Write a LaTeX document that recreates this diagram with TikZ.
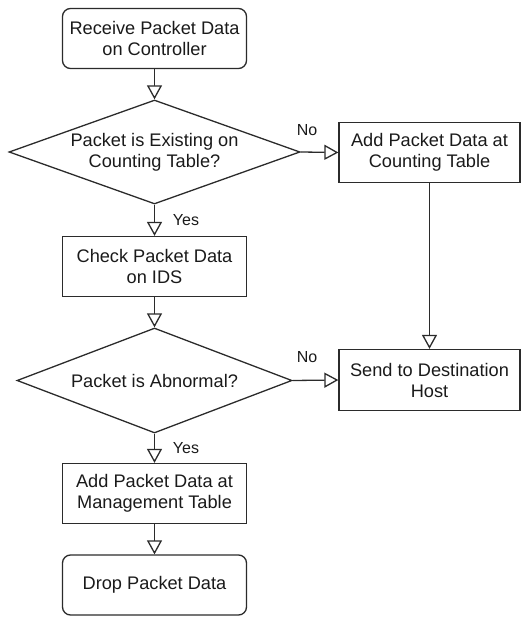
\documentclass[tikz,border=0pt]{standalone}
\usepackage{fontspec}
\setmainfont{Liberation Sans}
\usetikzlibrary{shapes.geometric,arrows.meta}
\definecolor{ln}{HTML}{2B2B2B}
\definecolor{tx}{HTML}{1A1A1A}
\begin{document}
\begin{tikzpicture}[x=1pt,y=-1pt,
  every node/.style={text=tx,font=\fontsize{18.2}{21}\selectfont},
  box/.style={draw=ln,line width=1.3pt,rectangle,align=center,inner sep=0pt,minimum width=184pt,minimum height=60pt},
  rbox/.style={box,rounded corners=8pt},
  dec/.style={draw=ln,line width=1.3pt,diamond,align=center,inner sep=0pt,aspect=2.8},
  lbl/.style={font=\fontsize{16}{18}\selectfont},
  flow/.style={draw=ln,line width=1.3pt,-{Triangle[open,length=14pt,width=15pt,fill=white]}}
]
\useasboundingbox (0,0) rectangle (521,617);
\node[rbox] (start) at (154.5,38.5) {Receive Packet Data\\on Controller};
\node[dec,minimum width=291pt,minimum height=104pt] (d1) at (154.5,152) {Packet is Existing on\\Counting Table?};
\node[box,minimum width=181pt] (add1) at (429.5,152.5) {Add Packet Data at\\Counting Table};
\node[box] (check) at (154.5,266.5) {Check Packet Data\\on IDS};
\node[dec,minimum width=275pt,minimum height=105pt] (d2) at (154.5,380.5) {Packet is Abnormal?};
\node[box,minimum width=181pt,minimum height=61pt] (send) at (429.5,380) {Send to Destination\\Host};
\node[box] (mgmt) at (154.5,493.5) {Add Packet Data at\\Management Table};
\node[rbox] (drop) at (154.5,585) {Drop Packet Data};
\node[lbl] (no1) at (307,130) {No};
\node[lbl] (yes1) at (186,220) {Yes};
\node[lbl] (no2) at (307,357) {No};
\node[lbl] (yes2) at (186,448) {Yes};
\draw[flow] (start.south) -- (d1.north);
\draw[flow] (d1.east) -- (add1.west);
\draw[flow] (d1.south) -- (check.north);
\draw[flow] (check.south) -- (d2.north);
\draw[flow] (add1.south) -- (send.north);
\draw[flow] (d2.east) -- (send.west);
\draw[flow] (d2.south) -- (mgmt.north);
\draw[flow] (mgmt.south) -- (drop.north);
\end{tikzpicture}
\end{document}
